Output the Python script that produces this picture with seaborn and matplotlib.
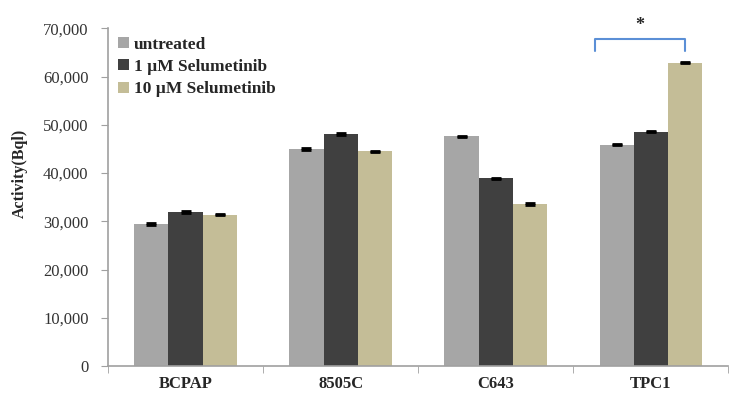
import pandas as pd
import numpy as np
import matplotlib
matplotlib.use("Agg")
import matplotlib.pyplot as plt
from matplotlib.ticker import FuncFormatter, FixedLocator
import seaborn as sns

# Data
cell_lines = ["BCPAP", "8505C", "C643", "TPC1"]
treatments = ["untreated", "1 \u00b5M Selumetinib", "10 \u00b5M Selumetinib"]
untreated = [29400, 45000, 47600, 45900]
selu_1um = [31900, 48100, 38900, 48600]
selu_10um = [31400, 44500, 33600, 62900]
err_untreated = [150, 150, 150, 150]
err_1um = [150, 150, 150, 150]
err_10um = [150, 150, 150, 150]

colors = ["#a6a6a6", "#404040", "#c4bd97"]


def build_frame() -> pd.DataFrame:
    """Long-form table for seaborn."""
    rows = []
    for name, vals in zip(treatments, [untreated, selu_1um, selu_10um]):
        for line, v in zip(cell_lines, vals):
            rows.append({"cell_line": line, "treatment": name, "activity": v})
    return pd.DataFrame(rows)


def main():
    df = build_frame()
    sns.set_style("white")
    plt.rcParams["font.family"] = ["Liberation Serif", "DejaVu Serif"]

    fig = plt.figure(figsize=(7.5, 4.04), dpi=100)
    ax = fig.add_axes([0.144, 0.094, 0.827, 0.836])

    sns.barplot(data=df, x="cell_line", y="activity", hue="treatment",
                order=cell_lines, hue_order=treatments, palette=colors,
                width=0.66, errorbar=None, saturation=1, linewidth=0, ax=ax)

    # error bars on top of each bar
    for cont, errs in zip(ax.containers, [err_untreated, err_1um, err_10um]):
        xs = [p.get_x() + p.get_width() / 2 for p in cont.patches]
        ys = [p.get_height() for p in cont.patches]
        ax.errorbar(xs, ys, yerr=errs, fmt="none", ecolor="black",
                    elinewidth=1.0, capsize=3.5, capthick=2, zorder=3)

    ax.set_ylim(0, 70000)
    ax.set_xlim(-0.5, 3.5)
    ax.yaxis.set_major_locator(FixedLocator(np.arange(0, 70001, 10000)))
    ax.yaxis.set_major_formatter(FuncFormatter(lambda v, p: f"{int(v):,}"))
    ax.tick_params(axis="y", labelsize=12, length=5, color="#a0a0a0", pad=9,
                   left=True, direction="out", labelcolor="#333333")
    ax.tick_params(axis="x", which="major", length=0, labelsize=12, pad=7)
    ax.xaxis.set_minor_locator(FixedLocator([-0.5, 0.5, 1.5, 2.5, 3.5]))
    ax.tick_params(axis="x", which="minor", length=5, color="#a0a0a0",
                   bottom=True, direction="out")
    for lab in ax.get_xticklabels():
        lab.set_fontweight("bold")

    for s in ["top", "right"]:
        ax.spines[s].set_visible(False)
    for s in ["left", "bottom"]:
        ax.spines[s].set_color("#a0a0a0")
        ax.spines[s].set_linewidth(1.2)

    ax.set_xlabel("")
    ax.set_ylabel("Activity(Bql)", fontsize=11.5, fontweight="bold")
    ax.yaxis.set_label_coords(-0.130, 0.57)

    # significance bracket over TPC1
    bx0 = ax.containers[0].patches[3]
    bx2 = ax.containers[2].patches[3]
    x0 = bx0.get_x() - 0.03
    x1 = bx2.get_x() + bx2.get_width() / 2
    ax.plot([x0, x0, x1, x1], [65200, 67800, 67800, 65200], color="#5b8fd6",
            lw=1.5, clip_on=False)
    ax.text((x0 + x1) / 2, 70600, "*", ha="center", va="center", fontsize=13,
            fontweight="bold", clip_on=False)

    ax.legend(loc="upper left", bbox_to_anchor=(0.0, 1.005), frameon=False,
              prop={"weight": "bold", "size": 12.5}, handlelength=0.6,
              handleheight=0.6, handletextpad=0.3, labelspacing=0.35,
              borderaxespad=0.2)

    fig.savefig("out.png", dpi=100)


if __name__ == "__main__":
    main()
